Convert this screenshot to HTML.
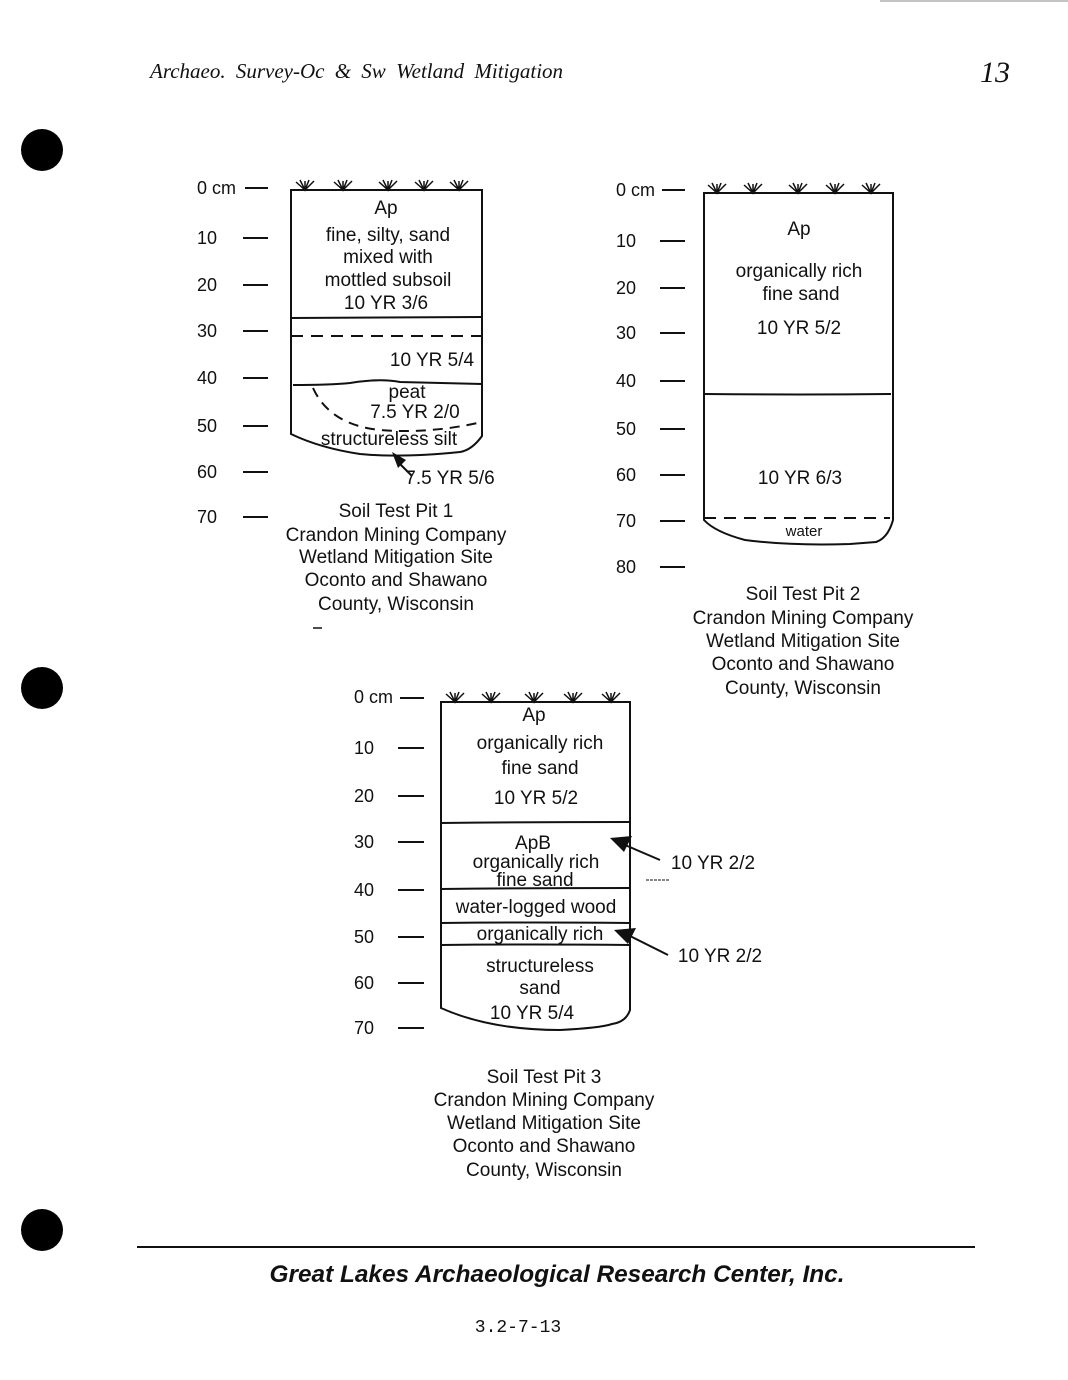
<!DOCTYPE html>
<html><head><meta charset="utf-8"><style>
html,body{margin:0;padding:0;background:#fff;}
svg{display:block;}
text{font-family:"Liberation Sans",sans-serif;fill:#111;}
</style></head><body>
<svg width="1068" height="1380" viewBox="0 0 1068 1380" xmlns="http://www.w3.org/2000/svg">
<defs>
<g id="grass" stroke="#111" stroke-width="1.5" fill="none">
<path d="M0,-8 L9,0 L18,-9 M4,-10 L9,0 L13,-10 M9,0 L9,-9"/>
</g>
</defs>
<line x1="880" y1="1" x2="1068" y2="1" stroke="#888" stroke-width="1"/>
<text x="150" y="78" style="font-family:'Liberation Serif',serif;font-style:italic;font-size:21px;word-spacing:5px">Archaeo. Survey-Oc &amp; Sw Wetland  Mitigation</text>
<text x="980" y="82" style="font-family:'Liberation Serif',serif;font-style:italic;font-size:30px">13</text>
<circle cx="42" cy="150" r="21" fill="#000"/>
<circle cx="42" cy="688" r="21" fill="#000"/>
<circle cx="42" cy="1230" r="21" fill="#000"/>

<!-- Pit 1 -->
<g font-size="18">
<text x="197" y="194">0 cm</text><line x1="245" y1="188" x2="268" y2="188" stroke="#111" stroke-width="2"/>
<text x="197" y="244">10</text><line x1="243" y1="238" x2="268" y2="238" stroke="#111" stroke-width="2"/>
<text x="197" y="291">20</text><line x1="243" y1="285" x2="268" y2="285" stroke="#111" stroke-width="2"/>
<text x="197" y="337">30</text><line x1="243" y1="331" x2="268" y2="331" stroke="#111" stroke-width="2"/>
<text x="197" y="384">40</text><line x1="243" y1="378" x2="268" y2="378" stroke="#111" stroke-width="2"/>
<text x="197" y="432">50</text><line x1="243" y1="426" x2="268" y2="426" stroke="#111" stroke-width="2"/>
<text x="197" y="478">60</text><line x1="243" y1="472" x2="268" y2="472" stroke="#111" stroke-width="2"/>
<text x="197" y="523">70</text><line x1="243" y1="517" x2="268" y2="517" stroke="#111" stroke-width="2"/>
</g>
<g fill="none" stroke="#111" stroke-width="2">
<path d="M291,190 L482,190 L482,436 Q472,450 460,452 Q400,458 360,454 Q320,448 291,434 Z"/>
<path d="M291,318 L482,317"/>
<path d="M291,336 L482,336" stroke-dasharray="12,8"/>
<path d="M293,385 Q330,385 350,383 Q380,378 400,382 L482,384"/>
<path d="M313,388 Q330,425 380,430 Q430,434 482,422" stroke-dasharray="10,7"/>
</g>
<g>
<use href="#grass" x="296" y="190"/><use href="#grass" x="334" y="190"/><use href="#grass" x="379" y="190"/><use href="#grass" x="415" y="190"/><use href="#grass" x="450" y="190"/>
</g>
<g font-size="19" text-anchor="middle">
<text x="386" y="214">Ap</text>
<text x="388" y="241">fine, silty, sand</text>
<text x="388" y="263">mixed with</text>
<text x="388" y="286">mottled subsoil</text>
<text x="386" y="309">10 YR 3/6</text>
<text x="432" y="366">10 YR 5/4</text>
<text x="407" y="398">peat</text>
<text x="415" y="418">7.5 YR 2/0</text>
<text x="389" y="445">structureless silt</text>
<text x="450" y="484">7.5 YR 5/6</text>
<text x="396" y="517">Soil Test Pit 1</text>
<text x="396" y="541">Crandon Mining Company</text>
<text x="396" y="563">Wetland Mitigation Site</text>
<text x="396" y="586">Oconto and Shawano</text>
<text x="396" y="610">County, Wisconsin</text>
</g>
<line x1="412" y1="476" x2="398" y2="462" stroke="#111" stroke-width="2"/>
<polygon points="392,452 406,460 398,468" fill="#111"/>
<line x1="313" y1="628" x2="322" y2="628" stroke="#111" stroke-width="1.5"/>

<!-- Pit 2 -->
<g font-size="18">
<text x="616" y="196">0 cm</text><line x1="662" y1="190" x2="685" y2="190" stroke="#111" stroke-width="2"/>
<text x="616" y="247">10</text><line x1="660" y1="241" x2="685" y2="241" stroke="#111" stroke-width="2"/>
<text x="616" y="294">20</text><line x1="660" y1="288" x2="685" y2="288" stroke="#111" stroke-width="2"/>
<text x="616" y="339">30</text><line x1="660" y1="333" x2="685" y2="333" stroke="#111" stroke-width="2"/>
<text x="616" y="387">40</text><line x1="660" y1="381" x2="685" y2="381" stroke="#111" stroke-width="2"/>
<text x="616" y="435">50</text><line x1="660" y1="429" x2="685" y2="429" stroke="#111" stroke-width="2"/>
<text x="616" y="481">60</text><line x1="660" y1="475" x2="685" y2="475" stroke="#111" stroke-width="2"/>
<text x="616" y="527">70</text><line x1="660" y1="521" x2="685" y2="521" stroke="#111" stroke-width="2"/>
<text x="616" y="573">80</text><line x1="660" y1="567" x2="685" y2="567" stroke="#111" stroke-width="2"/>
</g>
<g fill="none" stroke="#111" stroke-width="2">
<path d="M704,193 L893,193 L893,520 Q888,538 876,542 L850,544 Q790,546 745,540 Q715,532 704,520 Z"/>
<path d="M704,394 Q800,395 891,394"/>
<path d="M704,518 L890,518" stroke-dasharray="12,8"/>
</g>
<g>
<use href="#grass" x="708" y="193"/><use href="#grass" x="744" y="193"/><use href="#grass" x="789" y="193"/><use href="#grass" x="826" y="193"/><use href="#grass" x="862" y="193"/>
</g>
<g font-size="19" text-anchor="middle">
<text x="799" y="235">Ap</text>
<text x="799" y="277">organically rich</text>
<text x="801" y="300">fine sand</text>
<text x="799" y="334">10 YR 5/2</text>
<text x="800" y="484">10 YR 6/3</text>
<text x="804" y="536" font-size="15">water</text>
<text x="803" y="600">Soil Test Pit 2</text>
<text x="803" y="624">Crandon Mining Company</text>
<text x="803" y="647">Wetland Mitigation Site</text>
<text x="803" y="670">Oconto and Shawano</text>
<text x="803" y="694">County, Wisconsin</text>
</g>

<!-- Pit 3 -->
<g font-size="18">
<text x="354" y="703">0 cm</text><line x1="400" y1="698" x2="424" y2="698" stroke="#111" stroke-width="2"/>
<text x="354" y="754">10</text><line x1="398" y1="748" x2="424" y2="748" stroke="#111" stroke-width="2"/>
<text x="354" y="802">20</text><line x1="398" y1="796" x2="424" y2="796" stroke="#111" stroke-width="2"/>
<text x="354" y="848">30</text><line x1="398" y1="842" x2="424" y2="842" stroke="#111" stroke-width="2"/>
<text x="354" y="896">40</text><line x1="398" y1="890" x2="424" y2="890" stroke="#111" stroke-width="2"/>
<text x="354" y="943">50</text><line x1="398" y1="937" x2="424" y2="937" stroke="#111" stroke-width="2"/>
<text x="354" y="989">60</text><line x1="398" y1="983" x2="424" y2="983" stroke="#111" stroke-width="2"/>
<text x="354" y="1034">70</text><line x1="398" y1="1028" x2="424" y2="1028" stroke="#111" stroke-width="2"/>
</g>
<g fill="none" stroke="#111" stroke-width="2">
<path d="M441,702 L630,702 L630,1010 Q626,1022 612,1024 Q600,1028 560,1030 Q490,1030 441,1008 Z"/>
<path d="M441,823 Q530,822 630,822"/>
<path d="M441,889 Q530,888 630,888"/>
<path d="M441,923 Q530,922 630,923"/>
<path d="M441,945 Q530,944 630,945"/>
</g>
<g>
<use href="#grass" x="446" y="702"/><use href="#grass" x="482" y="702"/><use href="#grass" x="525" y="702"/><use href="#grass" x="564" y="702"/><use href="#grass" x="602" y="702"/>
</g>
<g font-size="19" text-anchor="middle">
<text x="534" y="721">Ap</text>
<text x="540" y="749">organically rich</text>
<text x="540" y="774">fine sand</text>
<text x="536" y="804">10 YR 5/2</text>
<text x="533" y="849">ApB</text>
<text x="536" y="868">organically rich</text>
<text x="535" y="886">fine sand</text>
<text x="536" y="913">water-logged wood</text>
<text x="540" y="940">organically rich</text>
<text x="540" y="972">structureless</text>
<text x="540" y="994">sand</text>
<text x="532" y="1019">10 YR 5/4</text>
<text x="713" y="869">10 YR 2/2</text>
<text x="720" y="962">10 YR 2/2</text>
<text x="544" y="1083">Soil Test Pit 3</text>
<text x="544" y="1106">Crandon Mining Company</text>
<text x="544" y="1129">Wetland Mitigation Site</text>
<text x="544" y="1152">Oconto and Shawano</text>
<text x="544" y="1176">County, Wisconsin</text>
</g>
<line x1="660" y1="860" x2="625" y2="845" stroke="#111" stroke-width="2"/>
<polygon points="610,838 632,836 624,852" fill="#111"/>
<line x1="668" y1="955" x2="630" y2="936" stroke="#111" stroke-width="2"/>
<polygon points="614,930 636,928 628,944" fill="#111"/>
<line x1="646" y1="880" x2="670" y2="880" stroke="#111" stroke-width="1" stroke-dasharray="3,1"/>

<!-- footer -->
<line x1="137" y1="1247" x2="975" y2="1247" stroke="#111" stroke-width="2"/>
<text x="557" y="1282" text-anchor="middle" textLength="575" lengthAdjust="spacingAndGlyphs" style="font-weight:bold;font-style:italic;font-size:24px">Great Lakes Archaeological Research Center, Inc.</text>
<text x="518" y="1332" text-anchor="middle" style="font-family:'Liberation Mono',monospace;font-size:18px">3.2-7-13</text>
</svg>
</body></html>
